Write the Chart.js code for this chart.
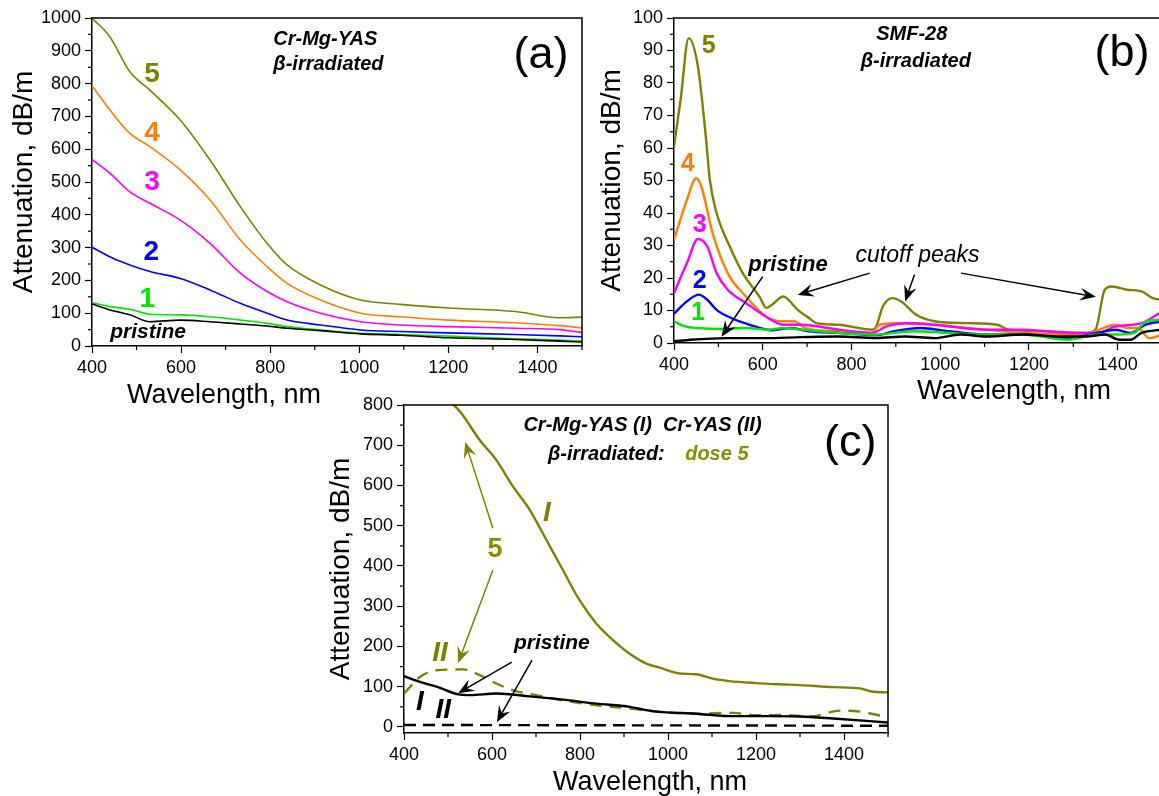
<!DOCTYPE html>
<html><head><meta charset="utf-8">
<script src="https://cdn.jsdelivr.net/npm/chart.js@4.4.1/dist/chart.umd.min.js"></script>
<style>
html,body{margin:0;padding:0;background:#fff;width:1159px;height:796px;overflow:hidden;position:relative}
canvas{position:absolute}
</style></head><body>
<canvas id="ca" width="590" height="412" style="left:0;top:0"></canvas>
<canvas id="cb" width="580" height="412" style="left:590px;top:0"></canvas>
<canvas id="cc" width="600" height="406" style="left:300px;top:390px"></canvas>
<script>
// ---------- Panel (a): Cr-Mg-YAS, beta-irradiated ----------
const wlA = [400,440,485,530,598,665,733,793,838,913,1003,1093,1200,1350,1450,1500];
const aDose5 = [1000,943,836,780,689,567,425,313,247,186,140,127,116,105,86,88];
const aDose4 = [793,720,648,608,537,445,323,242,191,140,100,89,79,71,62,55];
const aDose3 = [569,527,470,435,384,313,222,166,135,100,74,64,59,54,50,41];
const aDose2 = [301,272,247,227,206,171,130,100,79,64,49,44,40,35,31,28];
const aDose1 = [132,120,112,97,95,89,79,69,59,49,39,35,30,22,18,15];
const aPristine = [128,110,95,74,79,74,67,61,54,47,37,33,25,20,15,12];

// ---------- Panel (b): SMF-28, beta-irradiated ----------
const wlB5 = [400,415,433,454,471,481,496,526,555,593,608,621,646,654,679,704,721,771,846,854,871,892,912,946,987,1062,1129,1154,1229,1329,1350,1371,1387,1421,1454,1479,1500];
const bDose5 = [60.5,75,93.8,85,64.5,50,40,29.6,21.5,14.2,10.8,11.8,14.3,13.8,10.2,7.7,6.1,5.6,4.1,4.6,11.3,13.8,12.8,8.7,6.7,6.1,5.6,4.1,3.6,3.1,4.1,16.4,17.4,16.4,15.9,13.8,13.3];
const wlB4 = [400,429,450,462,487,521,562,612,646,671,696,771,846,862,896,954,987,1104,1187,1296,1337,1396,1421,1446,1471,1500];
const bDose4 = [31.8,44,50.7,48,33.8,21.5,14.3,7.7,6.7,6.7,4.6,3.6,3.1,5.6,6.1,6.1,5.6,4.1,3.1,2.6,3.1,5.6,4.6,4.6,1.5,2.6];
const wlB3 = [400,429,454,475,496,521,562,612,646,687,771,846,879,921,987,1104,1187,1296,1354,1396,1454,1500];
const bDose3 = [15.4,24.6,32,29.7,21.5,16.4,12.3,7.7,5.6,5.6,4.1,3.1,5.1,6.1,5.6,4.1,4.1,3.1,3.1,5.1,6.1,9.7];
const wlB2 = [400,429,456,475,496,529,571,621,662,704,771,854,896,954,1021,1104,1187,1287,1354,1396,1429,1462,1500];
const bDose2 = [9,12.8,14.9,13.3,10.2,7.7,5.6,3.9,4.6,3.6,3.1,2.4,3.6,4.6,3.6,2.6,2.6,1.5,3.1,4.1,3.1,5.6,6.7];
const wlB1 = [400,421,454,504,562,612,646,687,771,854,937,1021,1104,1187,1287,1354,1404,1437,1462,1500];
const bDose1 = [6.7,5.3,4.6,4.3,4.6,4.1,4.6,4.1,3.1,2.6,3.6,3.1,2.6,2.6,1,2.6,2.6,3.1,6.4,7.2];
const wlB0 = [400,437,521,604,687,771,854,921,987,1046,1104,1187,1271,1329,1371,1404,1429,1454,1500];
const bPristine = [0.5,1,1.5,1.5,1.8,2,1.5,2,1.5,2.6,2,2.6,2,2,2.6,1,1,3.1,4.1];

// ---------- Panel (c): Cr-Mg-YAS (I) vs Cr-YAS (II) ----------
const wlC1 = [400,440,485,530,572,610,648,686,724,761,799,837,875,913,950,988,1026,1064,1102,1139,1200,1253,1300,1375,1436,1462,1500];
const cDose5I = [1000,943,836,780,713,663,597,539,464,390,315,257,216,182,158,145,133,131,120,114,109,106,104,99,96,88,86];
const wlC2 = [400,436,474,535,572,610,648,701,761,837,913,988,1064,1148,1200,1262,1323,1391,1436,1500];
const cDose5II = [83,124,141,143,129,108,91,79,66,54,46,37,33,35,29,30,26,40.5,38,24];
const wlC3 = [400,436,474,523,550,610,686,761,837,913,950,988,1064,1139,1224,1300,1375,1500];
const cPristineI = [126,112,100,81,79,83,76,68,58,50,42,37,33,27,27,26,21,11];
const wlC4 = [400,1500];
const cPristineII = [5,3];

// tick labels
const xTicks = [400,600,800,1000,1200,1400];
const xMinor = [500,700,900,1100,1300,1500];
const yTicksA = [0,100,200,300,400,500,600,700,800,900,1000];
const yTicksB = [0,10,20,30,40,50,60,70,80,90,100];
const yTicksC = [0,100,200,300,400,500,600,700,800];

const FAM = '"Liberation Sans", Arial, sans-serif';
const OLIVE = '#808000', ORANGE = '#ff8000', MAGENTA = '#ff00ff', BLUE = '#0000ff', GREEN = '#00e600';

const zip = (xs, ys) => xs.map((x, i) => ({x, y: ys[i]}));
const half = a => a.slice(0, -1).map((v, i) => (v + a[i + 1]) / 2);

function drawArrow(ctx, x1, y1, x2, y2, color, w) {
  const ang = Math.atan2(y2 - y1, x2 - x1), L = 16, W = 6.5;
  ctx.strokeStyle = color; ctx.fillStyle = color; ctx.lineWidth = w;
  ctx.beginPath(); ctx.moveTo(x1, y1);
  ctx.lineTo(x2 - Math.cos(ang) * 8, y2 - Math.sin(ang) * 8); ctx.stroke();
  const bx = x2 - Math.cos(ang) * L, by = y2 - Math.sin(ang) * L;
  const nx = -Math.sin(ang) * W, ny = Math.cos(ang) * W;
  ctx.beginPath(); ctx.moveTo(x2, y2);
  ctx.lineTo(bx + nx, by + ny);
  ctx.lineTo(x2 - Math.cos(ang) * 10, y2 - Math.sin(ang) * 10);
  ctx.lineTo(bx - nx, by - ny); ctx.closePath(); ctx.fill();
}

const deco = {
  id: 'deco',
  afterDraw(chart, args, o) {
    const {ctx, chartArea: a, scales: {x, y}} = chart;
    ctx.save();
    ctx.strokeStyle = '#000'; ctx.lineWidth = o.frame;
    ctx.beginPath();
    ctx.moveTo(a.left, a.top); ctx.lineTo(a.right, a.top); ctx.lineTo(a.right, a.bottom);
    ctx.stroke();
    ctx.lineWidth = 1.2;
    for (const v of o.xMinor) {
      const p = x.getPixelForValue(v);
      ctx.beginPath(); ctx.moveTo(p, a.bottom); ctx.lineTo(p, a.bottom + 4); ctx.stroke();
    }
    for (const v of o.yMinor) {
      const p = y.getPixelForValue(v);
      ctx.beginPath(); ctx.moveTo(a.left - 4, p); ctx.lineTo(a.left, p); ctx.stroke();
    }
    for (const r of o.arrows) {
      drawArrow(ctx, x.getPixelForValue(r.from[0]), y.getPixelForValue(r.from[1]),
        x.getPixelForValue(r.to[0]), y.getPixelForValue(r.to[1]), r.color, r.w || 1.5);
    }
    for (const t of o.texts) {
      ctx.font = t.font + ' ' + FAM;
      ctx.fillStyle = t.color || '#000';
      ctx.textAlign = t.align || 'center';
      ctx.textBaseline = t.base || 'middle';
      const px = t.px !== undefined ? t.px : x.getPixelForValue(t.x);
      const py = t.py !== undefined ? t.py : y.getPixelForValue(t.y);
      ctx.fillText(t.t, px, py);
    }
    ctx.restore();
  }
};

function makeChart(id, cfg) {
  const tickFont = {size: 18, family: FAM};
  return new Chart(document.getElementById(id), {
    type: 'line',
    data: {datasets: cfg.datasets.map(d => Object.assign({
      pointRadius: 0, borderWidth: cfg.lw, cubicInterpolationMode: 'monotone', fill: false
    }, d))},
    plugins: [deco],
    options: {
      responsive: false, animation: false, devicePixelRatio: 1,
      layout: {padding: cfg.pad},
      plugins: {legend: {display: false}, tooltip: {enabled: false}, deco: cfg.deco},
      scales: {
        x: {
          type: 'linear', min: 400, max: 1500,
          afterBuildTicks: s => { s.ticks = xTicks.map(v => ({value: v})); },
          afterFit: s => { s.height = cfg.xh; },
          grid: {drawOnChartArea: false, tickLength: 7, tickColor: '#000', tickWidth: 1.2},
          border: {color: '#000', width: cfg.frame},
          ticks: {color: '#000', font: tickFont, padding: 4, maxRotation: 0, autoSkip: false, callback: v => String(v)}
        },
        y: {
          type: 'linear', min: cfg.ymin, max: cfg.ymax,
          afterBuildTicks: s => { s.ticks = cfg.yTicks.map(v => ({value: v})); },
          afterFit: s => { s.width = cfg.yw; },
          grid: {drawOnChartArea: false, tickLength: 7, tickColor: '#000', tickWidth: 1.2},
          border: {color: '#000', width: cfg.frame},
          ticks: {color: '#000', font: tickFont, padding: 4, autoSkip: false, callback: v => String(v)},
          title: {display: true, text: 'Attenuation, dB/m', color: '#000',
            font: {size: 28, family: FAM}, padding: {top: cfg.ytPad, bottom: 0}}
        }
      }
    }
  });
}

// Panel (a)
makeChart('ca', {
  lw: 1.6, frame: 1.5, xh: 66, yw: 92, ymin: 0, ymax: 1000, yTicks: yTicksA, ytPad: 7,
  pad: {top: 18, right: 8, left: 0, bottom: 0},
  datasets: [
    {data: zip(wlA, aPristine), borderColor: '#000'},
    {data: zip(wlA, aDose1), borderColor: GREEN},
    {data: zip(wlA, aDose2), borderColor: BLUE},
    {data: zip(wlA, aDose3), borderColor: MAGENTA},
    {data: zip(wlA, aDose4), borderColor: ORANGE},
    {data: zip(wlA, aDose5), borderColor: OLIVE}
  ],
  deco: {
    frame: 1.5, xMinor: xMinor, yMinor: half(yTicksA), arrows: [],
    texts: [
      {t: '5', x: 535, y: 829, font: 'bold 28px', color: OLIVE},
      {t: '4', x: 535, y: 649, font: 'bold 28px', color: ORANGE},
      {t: '3', x: 535, y: 500, font: 'bold 28px', color: MAGENTA},
      {t: '2', x: 533, y: 287, font: 'bold 28px', color: BLUE},
      {t: '1', x: 524, y: 143, font: 'bold 28px', color: GREEN},
      {t: 'pristine', x: 526, y: 43, font: 'italic bold 21px'},
      {t: 'Cr-Mg-YAS', x: 807, y: 933, font: 'italic bold 20px', align: 'left'},
      {t: 'β-irradiated', x: 807, y: 857, font: 'italic bold 20px', align: 'left'},
      {t: '(a)', x: 1408, y: 886, font: '45px'},
      {t: 'Wavelength, nm', px: 224, py: 403, font: '27px', base: 'alphabetic'}
    ]
  }
});

// Panel (b)
makeChart('cb', {
  lw: 2.4, frame: 1.5, xh: 69, yw: 84, ymin: 0, ymax: 100, yTicks: yTicksB, ytPad: 5,
  pad: {top: 18, right: 8, left: 0, bottom: 0},
  datasets: [
    {data: zip(wlB0, bPristine), borderColor: '#000'},
    {data: zip(wlB1, bDose1), borderColor: GREEN},
    {data: zip(wlB2, bDose2), borderColor: BLUE},
    {data: zip(wlB3, bDose3), borderColor: MAGENTA},
    {data: zip(wlB4, bDose4), borderColor: ORANGE},
    {data: zip(wlB5, bDose5), borderColor: OLIVE}
  ],
  deco: {
    frame: 1.5, xMinor: xMinor, yMinor: half(yTicksB),
    arrows: [
      {from: [600, 20.4], to: [507, 1.9], color: '#000'},
      {from: [841, 21.5], to: [679, 14.8], color: '#000'},
      {from: [942, 21], to: [921, 12.8], color: '#000'},
      {from: [1047, 21.5], to: [1351, 14.2], color: '#000'}
    ],
    texts: [
      {t: '5', x: 478, y: 91.2, font: 'bold 25px', color: OLIVE},
      {t: '4', x: 431, y: 55, font: 'bold 25px', color: ORANGE},
      {t: '3', x: 458, y: 36.3, font: 'bold 25px', color: MAGENTA},
      {t: '2', x: 458, y: 18.9, font: 'bold 25px', color: BLUE},
      {t: '1', x: 454, y: 9.2, font: 'bold 25px', color: GREEN},
      {t: 'pristine', x: 657, y: 24, font: 'italic bold 22px'},
      {t: 'cutoff peaks', x: 949, y: 26.8, font: 'italic 23px'},
      {t: 'SMF-28', x: 936, y: 94.8, font: 'italic bold 20px'},
      {t: 'β-irradiated', x: 945, y: 86.6, font: 'italic bold 20px'},
      {t: '(b)', x: 1410, y: 88.9, font: '45px'},
      {t: 'Wavelength, nm', px: 424, py: 399, font: '27px', base: 'alphabetic'}
    ]
  }
});

// Panel (c)
makeChart('cc', {
  lw: 2.4, frame: 1.5, xh: 63, yw: 104, ymin: -15, ymax: 800, yTicks: yTicksC, ytPad: 24,
  pad: {top: 15, right: 12, left: 0, bottom: 0},
  datasets: [
    {data: zip(wlC4, cPristineII), borderColor: '#000', borderDash: [12, 7], cubicInterpolationMode: 'default', tension: 0},
    {data: zip(wlC3, cPristineI), borderColor: '#000'},
    {data: zip(wlC2, cDose5II), borderColor: OLIVE, borderDash: [12, 8]},
    {data: zip(wlC1, cDose5I), borderColor: OLIVE}
  ],
  deco: {
    frame: 1.5, xMinor: xMinor, yMinor: half(yTicksC),
    arrows: [
      {from: [602, 494], to: [539, 708], color: OLIVE},
      {from: [602, 390], to: [523, 159], color: OLIVE},
      {from: [645, 161], to: [523, 84], color: '#000'},
      {from: [691, 166], to: [611, 12], color: '#000'}
    ],
    texts: [
      {t: 'Cr-Mg-YAS (I)  Cr-YAS (II)', x: 942, y: 748, font: 'italic bold 20px'},
      {t: 'β-irradiated:', x: 727, y: 676, font: 'italic bold 20px', align: 'left'},
      {t: 'dose 5', x: 1039, y: 676, font: 'italic bold 20px', align: 'left', color: '#8c8c00'},
      {t: '(c)', x: 1414, y: 704, font: '45px'},
      {t: 'I', x: 725, y: 532, font: 'italic bold 28px', color: OLIVE},
      {t: '5', x: 607, y: 440, font: 'bold 27px', color: '#8c8c00'},
      {t: 'II', x: 482, y: 184, font: 'italic bold 28px', color: OLIVE},
      {t: 'pristine', x: 736, y: 209, font: 'italic bold 21px'},
      {t: 'I', x: 436, y: 62, font: 'italic bold 28px'},
      {t: 'II', x: 489, y: 42, font: 'italic bold 28px'},
      {t: 'Wavelength, nm', px: 350, py: 400, font: '27px', base: 'alphabetic'}
    ]
  }
});
</script>
</body></html>
